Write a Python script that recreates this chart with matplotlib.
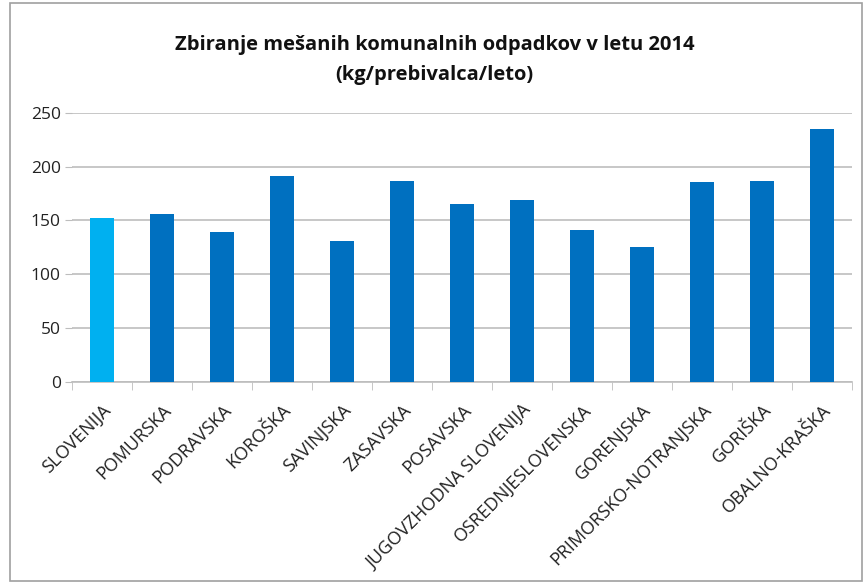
import matplotlib.pyplot as plt
import numpy as np
from matplotlib.patches import Rectangle

regions = ["SLOVENIJA", "POMURSKA", "PODRAVSKA", "KOROŠKA", "SAVINJSKA", "ZASAVSKA",
           "POSAVSKA", "JUGOVZHODNA SLOVENIJA", "OSREDNJESLOVENSKA", "GORENJSKA",
           "PRIMORSKO-NOTRANJSKA", "GORIŠKA", "OBALNO-KRAŠKA"]
values = [152, 156, 139, 191, 131, 187, 165, 169, 141, 125, 186, 187, 235]
yticks = [0, 50, 100, 150, 200, 250]

plt.rcParams['font.family'] = ['Open Sans', 'DejaVu Sans']

fig = plt.figure(figsize=(8.66, 5.83), dpi=100)
ax = fig.add_axes([72 / 866, 1 - 381.5 / 583, 780 / 866, 268.5 / 583])

colors = ['#00B0F0'] + ['#0070C0'] * (len(values) - 1)
x = np.arange(len(regions))
ax.bar(x, values, width=0.39, color=colors, zorder=3)

ax.set_ylim(0, 250)
ax.set_xlim(-0.5, len(regions) - 0.5)
ax.set_yticks(yticks)
ax.yaxis.grid(True, color='#BDBDBD', linewidth=1.2)
ax.set_axisbelow(True)
ax.tick_params(axis='y', length=5, color='#BDBDBD', labelsize=12.5, labelcolor='#222222', pad=3)

ax.set_xticks(x)
ax.set_xticklabels(regions, rotation=45, ha='right', va='top', rotation_mode='anchor',
                   fontsize=13, color='#222222')
ax.set_xticks(np.arange(-0.5, len(regions)), minor=True)
ax.tick_params(axis='x', which='major', length=0, pad=14)
ax.tick_params(axis='x', which='minor', length=6, color='#BDBDBD')

for s in ['top', 'right', 'left']:
    ax.spines[s].set_visible(False)
ax.spines['bottom'].set_color('#BDBDBD')
ax.spines['bottom'].set_linewidth(1.2)

fig.text(0.502, 1 - 45 / 583, "Zbiranje mešanih komunalnih odpadkov v letu 2014",
         ha='center', va='center', fontsize=14.5, fontweight='bold', color='#111111')
fig.text(0.502, 1 - 75 / 583, "(kg/prebivalca/leto)",
         ha='center', va='center', fontsize=14.5, fontweight='bold', color='#111111')

fig.patches.append(Rectangle((10 / 866, 2 / 583), 852 / 866, 578 / 583, transform=fig.transFigure,
                             fill=False, edgecolor='#A0A0A0', linewidth=1.2))

plt.savefig('out.png', dpi=100)
